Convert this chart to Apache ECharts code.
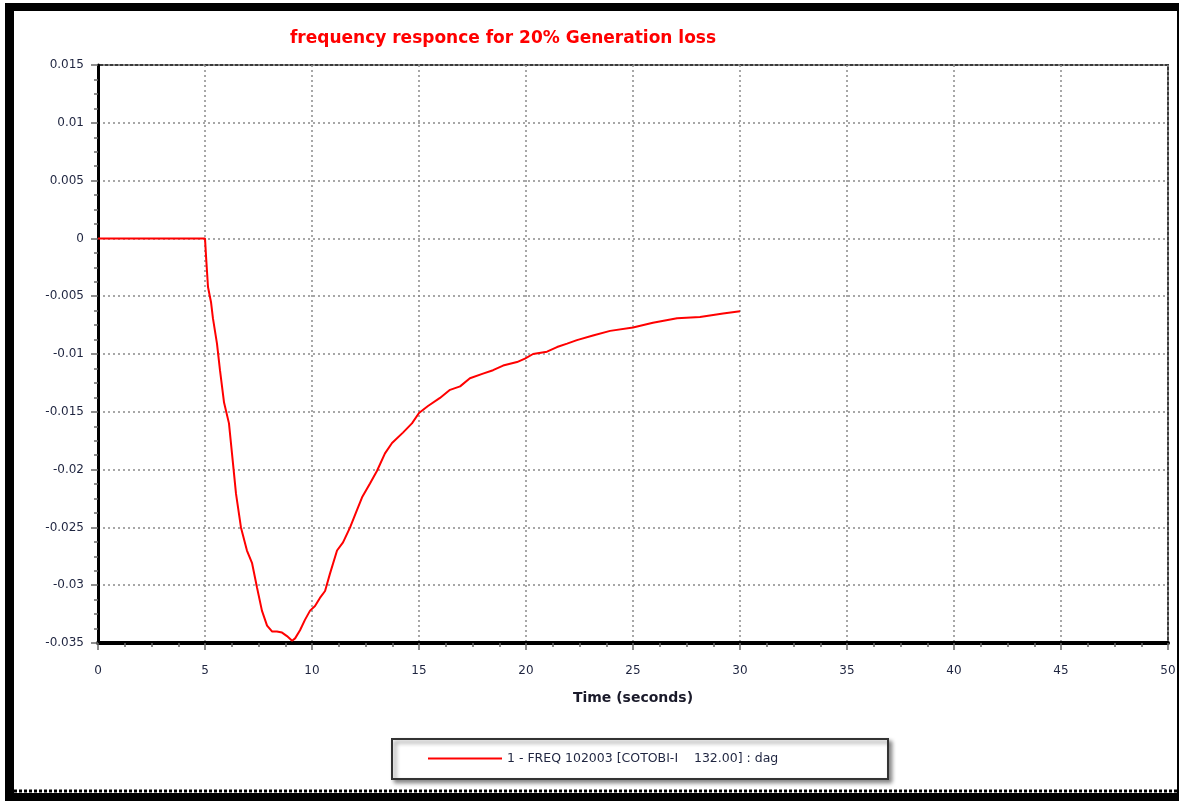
<!DOCTYPE html>
<html>
<head>
<meta charset="utf-8">
<title>frequency responce for 20% Generation loss</title>
<script src="https://cdn.jsdelivr.net/npm/echarts@6/dist/echarts.min.js"></script>
<style>
  html, body { margin: 0; padding: 0; background: #fff; }
  #chart { width: 1181px; height: 801px; }
</style>
</head>
<body>
<div id="chart"></div>
<script>
// Simulated bus frequency deviation after losing 20% of generation at t = 5 s
const timeSec = [0, 5.0, 5.05, 5.14, 5.28, 5.37, 5.56, 5.70, 5.89, 6.12, 6.31, 6.45, 6.68, 6.96, 7.20, 7.43,
  7.66, 7.90, 8.13, 8.36, 8.60, 8.83, 9.07, 9.21, 9.44, 9.67, 9.91, 10.14, 10.37, 10.61, 10.84, 11.17,
  11.45, 11.78, 12.10, 12.34, 12.71, 13.04, 13.41, 13.74, 14.25, 14.67, 15.00, 15.42, 15.98, 16.45,
  16.92, 17.38, 17.99, 18.46, 18.93, 19.58, 19.95, 20.33, 20.98, 21.45, 21.92, 22.38, 23.13, 23.93,
  25.00, 25.93, 27.06, 28.13, 29.21, 30.00];
const freqDev = [0, 0, -0.0016, -0.0042, -0.0055, -0.0069, -0.0091, -0.0114, -0.0142, -0.0160, -0.0195, -0.0221,
  -0.0250, -0.0270, -0.0281, -0.0302, -0.0322, -0.0335, -0.0340, -0.0340, -0.0341, -0.0344, -0.0348,
  -0.0346, -0.0339, -0.0330, -0.0322, -0.0318, -0.0311, -0.0305, -0.0290, -0.0270, -0.0263, -0.0250,
  -0.0235, -0.0224, -0.0212, -0.0201, -0.0186, -0.0177, -0.0168, -0.0160, -0.0151, -0.0145, -0.0138,
  -0.0131, -0.0128, -0.0121, -0.0117, -0.0114, -0.0110, -0.0107, -0.0104, -0.0100, -0.0098, -0.0094,
  -0.0091, -0.0088, -0.0084, -0.0080, -0.0077, -0.0073, -0.0069, -0.0068, -0.0065, -0.0063];

const xTickValues = [0, 5, 10, 15, 20, 25, 30, 35, 40, 45, 50];
const yTickValues = [0.015, 0.01, 0.005, 0, -0.005, -0.01, -0.015, -0.02, -0.025, -0.03, -0.035];
const yTickLabels = ['0.015', '0.01', '0.005', '0', '-0.005', '-0.01', '-0.015', '-0.02', '-0.025', '-0.03', '-0.035'];

const chartTitle = 'frequency responce for 20% Generation loss';
const xAxisName = 'Time (seconds)';
const seriesName = '1 - FREQ 102003 [COTOBI-I    132.00] : dag';

const points = timeSec.map((t, i) => [t, freqDev[i]]);

const FONT = 'DejaVu Sans, Verdana, sans-serif';
const labelFont = { fontFamily: FONT, fontSize: 12, color: '#1f2540' };
const gridLine = { show: true, lineStyle: { color: '#8a8a8a', type: [2, 3], width: 1.5 } };

const chart = echarts.init(document.getElementById('chart'), null, { renderer: 'canvas' });
chart.setOption({
  backgroundColor: '#ffffff',
  animation: false,
  title: {
    text: chartTitle,
    left: 498, top: 25, textAlign: 'center',
    textStyle: { color: '#ff0000', fontSize: 17, fontWeight: 'bold', fontFamily: FONT }
  },
  grid: {
    left: 98, top: 65, right: 13, bottom: 158,
    show: true, borderColor: '#3a3a3a', borderWidth: 2
  },
  xAxis: {
    type: 'value',
    min: xTickValues[0], max: xTickValues[xTickValues.length - 1],
    interval: xTickValues[1] - xTickValues[0],
    name: xAxisName, nameLocation: 'middle', nameGap: 48,
    nameTextStyle: { fontFamily: FONT, fontSize: 14, fontWeight: 'bold', color: '#1a1a2a' },
    axisLine: { show: true, onZero: false, lineStyle: { color: '#000', width: 4 } },
    axisTick: { show: true, inside: false, length: 7, lineStyle: { color: '#6a6a6a', width: 1.5 } },
    minorTick: { show: true, splitNumber: 4, length: 4, lineStyle: { color: '#6a6a6a', width: 1.5 } },
    axisLabel: Object.assign({ margin: 22 }, labelFont),
    splitLine: gridLine
  },
  yAxis: {
    type: 'value',
    min: yTickValues[yTickValues.length - 1], max: yTickValues[0],
    interval: yTickValues[0] - yTickValues[1],
    axisLine: { show: true, onZero: false, lineStyle: { color: '#000', width: 3 } },
    axisTick: { show: true, inside: false, length: 7, lineStyle: { color: '#6a6a6a', width: 1.5 } },
    minorTick: { show: true, splitNumber: 4, length: 4, lineStyle: { color: '#6a6a6a', width: 1.5 } },
    axisLabel: Object.assign({
      margin: 14,
      formatter: v => {
        const i = yTickValues.findIndex(t => Math.abs(t - v) < 1e-9);
        return i >= 0 ? yTickLabels[i] : '';
      }
    }, labelFont),
    splitLine: gridLine
  },
  legend: {
    left: 428, top: 752, padding: 0,
    itemWidth: 74, itemHeight: 2,
    icon: 'rect',
    textStyle: { fontFamily: FONT, fontSize: 12.5, color: '#1f2540' },
    data: [seriesName]
  },
  graphic: [
    // outer frame
    { type: 'rect', shape: { x: 5, y: 3, width: 1174, height: 8 }, style: { fill: '#000' }, z: 10 },
    { type: 'rect', shape: { x: 5, y: 3, width: 9, height: 798 }, style: { fill: '#000' }, z: 10 },
    { type: 'rect', shape: { x: 1177, y: 3, width: 2, height: 798 }, style: { fill: '#000' }, z: 10 },
    { type: 'rect', shape: { x: 5, y: 793, width: 1174, height: 8 }, style: { fill: '#000' }, z: 10 },
    { type: 'line', shape: { x1: 14, y1: 791, x2: 1177, y2: 791 }, style: { stroke: '#000', lineWidth: 3, lineDash: [3, 2] }, z: 10 },
    // legend box with drop shadow
    {
      type: 'rect', shape: { x: 392, y: 739, width: 496, height: 40 },
      style: { fill: '#fff', stroke: '#333', lineWidth: 2, shadowColor: 'rgba(0,0,0,0.45)', shadowBlur: 4, shadowOffsetX: 3, shadowOffsetY: 3 },
      z: -1
    }
  ],
  series: [{
    name: seriesName,
    type: 'line',
    data: points,
    symbol: 'none',
    showSymbol: false,
    lineStyle: { color: '#ff0000', width: 2 },
    itemStyle: { color: '#ff0000' },
    z: 5
  }]
});
</script>
</body>
</html>
